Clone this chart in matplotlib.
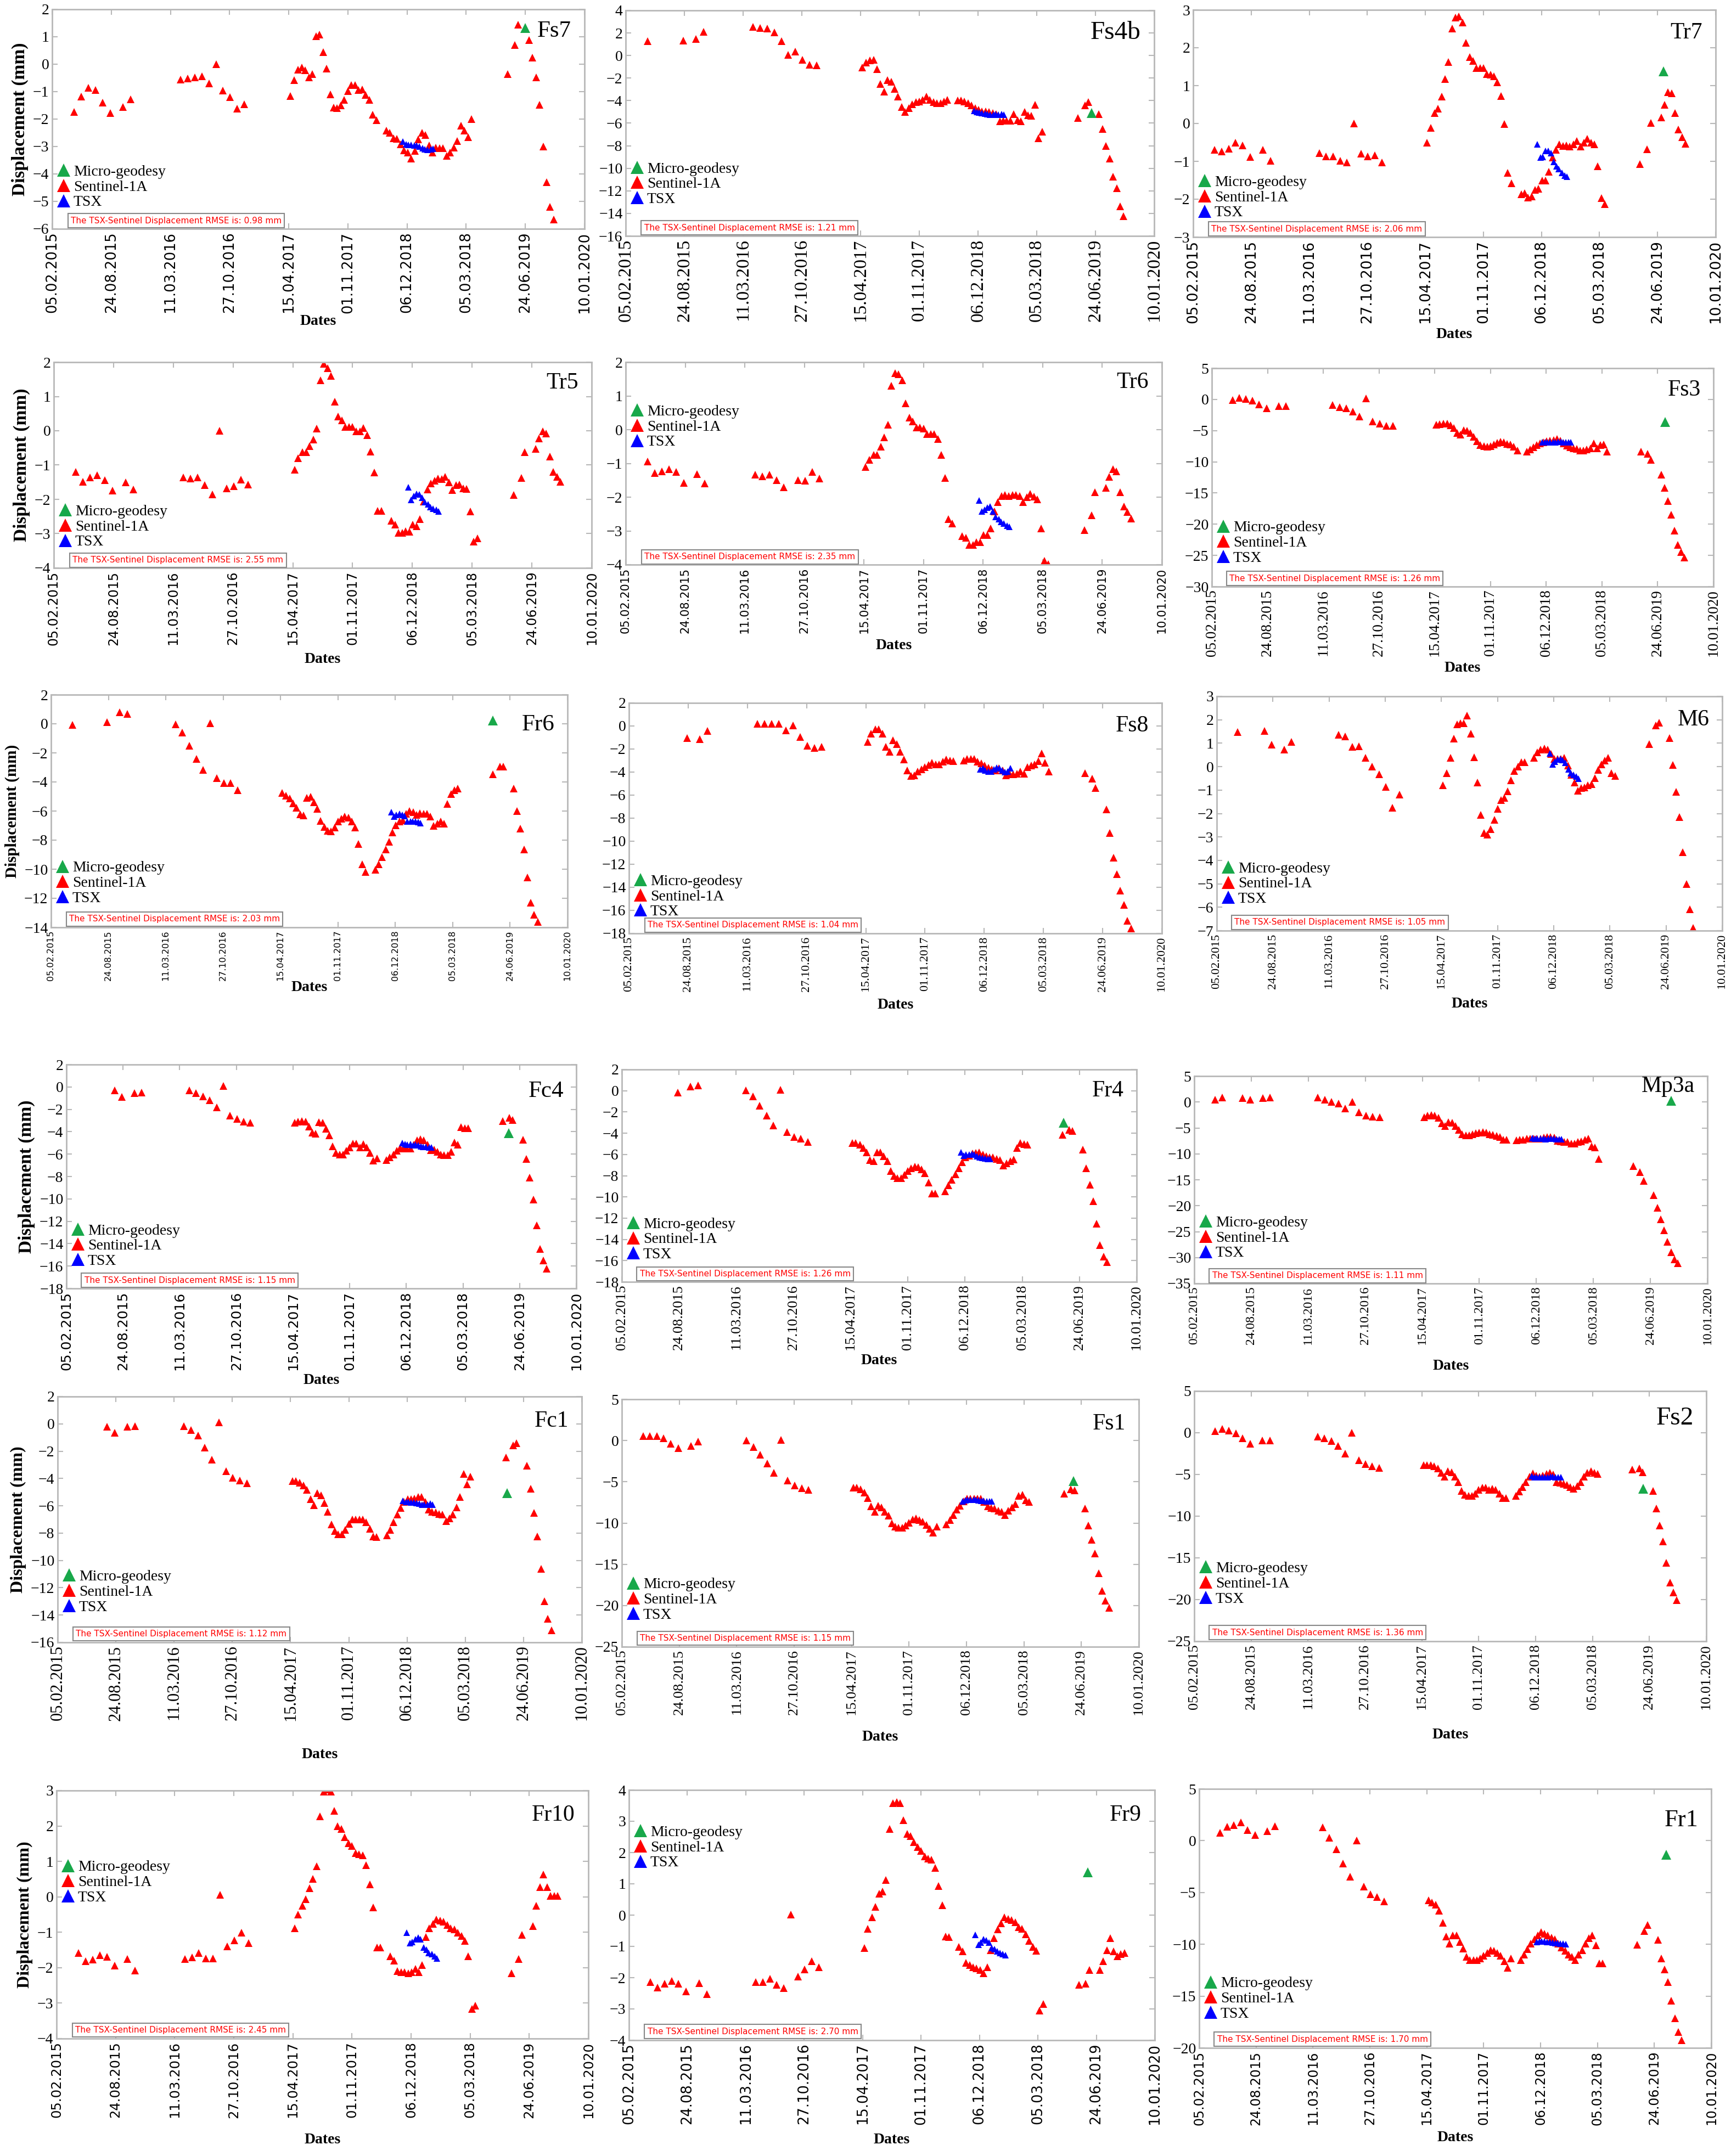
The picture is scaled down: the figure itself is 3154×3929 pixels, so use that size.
import numpy as np
import matplotlib
matplotlib.use('Agg')
import matplotlib.pyplot as plt
from matplotlib.lines import Line2D

nan = np.nan

# ---------------- data ----------------
date_labels = ['05.02.2015', '24.08.2015', '11.03.2016', '27.10.2016', '15.04.2017',
               '01.11.2017', '06.12.2018', '05.03.2018', '24.06.2019', '10.01.2020']

# Sentinel-1A acquisition positions (in tick units along the date axis)
s1_x = [0.37, 0.49, 0.61, 0.73, 0.85, 0.98, 1.20, 1.33,
        2.17, 2.29, 2.41, 2.53, 2.65, 2.77, 2.89, 3.01, 3.13, 3.25,
        4.03, 4.09, 4.16, 4.22, 4.28, 4.34, 4.40, 4.46, 4.52, 4.58, 4.64, 4.70, 4.76,
        4.82, 4.88, 4.94, 5.00, 5.06, 5.12, 5.18, 5.24, 5.30, 5.36, 5.42, 5.48,
        5.65, 5.71, 5.77, 5.83, 5.89, 5.95, 6.01, 6.07, 6.13, 6.19, 6.25, 6.31, 6.37,
        6.43, 6.49, 6.55, 6.61, 6.67, 6.73, 6.79, 6.85, 6.91, 6.97, 7.03, 7.09,
        7.70, 7.82, 7.88, 8.06, 8.12, 8.18, 8.24, 8.30, 8.36, 8.42, 8.48]
# TSX acquisition positions
tsx_x = [5.93, 5.98, 6.02, 6.07, 6.12, 6.16, 6.21, 6.26, 6.30, 6.35, 6.40, 6.44]

fs7_s1 = [-1.74, -1.17, -0.85, -0.93, -1.40, -1.78, -1.56, -1.28,
          -0.56, -0.51, -0.47, -0.43, -0.70, 0.00, -0.95, -1.19, -1.62, -1.46,
          -1.15, -0.58, -0.20, -0.12, -0.21, -0.47, -0.36, 1.03, 1.08, 0.45, -0.15, -1.09, -1.58,
          -1.60, -1.49, -1.29, -0.98, -0.75, -0.75, -0.93, -0.91, -1.12, -1.30, -1.83, -2.04,
          -2.41, -2.49, -2.69, -2.72, -2.92, -3.14, -3.21, -3.44, -3.16, -2.73, -2.49, -2.58, -2.96,
          -3.22, -3.04, -3.06, -3.06, -3.34, -3.22, -3.03, -2.80, -2.24, -2.42, -2.66, -2.00,
          -0.36, 0.71, 1.44, 0.88, 0.24, -0.48, -1.48, -2.99, -4.30, -5.19, -5.66]
fs7_tsx = [-2.82, -2.92, -2.93, -2.93, -2.95, -2.96, -3.00, -3.05, -3.10, -3.12, -3.10, -3.07]
fs7_mg = (8.00, 1.32)

fs4b_s1 = [1.29, nan, nan, nan, nan, 1.32, 1.46, 2.10,
           2.54, 2.44, 2.37, 2.03, 1.29, 0.07, 0.34, -0.37, -0.81, -0.88,
           -1.05, -0.64, -0.41, -0.37, -1.22, -2.51, -3.19, -2.17, -2.31, -2.98, -3.63, -4.58, -4.98,
           -4.68, -4.31, -4.14, -4.07, -3.93, -3.66, -3.93, -4.14, -4.20, -4.20, -4.07, -3.93,
           -4.00, -4.00, -4.07, -4.20, -4.41, -4.64, -4.81, -4.95, -4.95, -4.98, -5.08, -5.22, -5.83,
           -5.76, -5.76, -5.76, -5.22, -5.73, -5.83, -4.98, -5.29, -5.32, -4.37, -7.36, -6.75,
           -5.56, -4.44, -4.14, -5.22, -6.51, -8.03, -9.15, -10.75, -11.76, -13.39, -14.27]
fs4b_tsx = [-4.90, -5.00, -5.05, -5.10, -5.15, -5.20, -5.25, -5.25, -5.20, -5.25, -5.20, -5.25]
fs4b_mg = (7.93, -5.08)

tr7_s1 = [-0.70, -0.74, -0.67, -0.50, -0.58, -0.88, -0.70, -0.98,
          -0.78, -0.87, -0.87, -0.99, -1.03, 0.00, -0.80, -0.87, -0.84, -1.03,
          -0.50, -0.11, 0.28, 0.39, 0.71, 1.18, 1.62, 2.51, 2.79, 2.83, 2.66, 2.13, 1.76,
          1.65, 1.46, 1.46, 1.46, 1.31, 1.29, 1.24, 1.09, 0.72, -0.02, -1.30, -1.58,
          -1.87, -1.84, -1.96, -1.93, -1.76, -1.73, -1.50, -1.50, -1.27, -0.90, -0.70, -0.55, -0.59,
          -0.58, -0.61, -0.55, -0.47, -0.61, -0.50, -0.41, -0.51, -0.55, -1.13, -1.97, -2.13,
          -1.07, -0.68, 0.02, 0.16, 0.50, 0.82, 0.80, 0.27, -0.16, -0.36, -0.54]
tr7_tsx = [-0.55, -0.90, -0.88, -0.72, -0.73, -0.78, -1.01, -1.13, -1.21, -1.30, -1.37, -1.40]
tr7_mg = (8.10, 1.38)

tr5_s1 = [-1.20, -1.49, -1.36, -1.29, -1.44, -1.74, -1.50, -1.72,
          -1.36, -1.40, -1.36, -1.58, -1.86, 0.00, -1.68, -1.62, -1.43, -1.57,
          -1.14, -0.80, -0.62, -0.62, -0.44, -0.26, 0.06, 1.47, 1.96, 1.83, 1.60, 0.85, 0.41,
          0.31, 0.12, 0.11, 0.12, -0.01, -0.01, 0.08, -0.13, -0.60, -1.22, -2.33, -2.33,
          -2.62, -2.74, -2.97, -2.97, -2.93, -2.95, -2.73, -2.79, -2.57, -2.06, -1.71, -1.54, -1.46,
          -1.39, -1.41, -1.35, -1.51, -1.73, -1.59, -1.57, -1.68, -1.69, -2.36, -3.24, -3.14,
          -1.87, -1.37, -0.62, -0.52, -0.22, -0.01, -0.08, -0.75, -1.20, -1.35, -1.49]
tr5_tsx = [-1.65, -2.02, -1.90, -1.84, -1.86, -1.95, -2.08, -2.15, -2.22, -2.27, -2.30, -2.36]
tr5_mg = None

tr6_s1 = [-0.94, -1.28, -1.23, -1.17, -1.25, -1.57, -1.32, -1.60,
          -1.33, -1.38, -1.33, -1.49, -1.70, nan, -1.49, -1.51, -1.25, -1.44,
          -1.11, -0.89, -0.74, -0.74, -0.51, -0.23, 0.14, 1.30, 1.67, 1.65, 1.47, 0.78, 0.36,
          0.25, 0.06, 0.06, 0.03, -0.13, -0.13, -0.13, -0.28, -0.75, -1.43, -2.65, -2.78,
          -3.15, -3.20, -3.41, -3.42, -3.34, -3.34, -3.13, -3.13, -2.93, -2.42, -2.14, -1.97, -1.94,
          -1.97, -1.94, -1.93, -1.97, -2.14, -2.00, -1.91, -1.99, -2.06, -2.93, -3.88, -3.99,
          -2.97, -2.53, -1.85, -1.72, -1.40, -1.17, -1.24, -1.85, -2.28, -2.44, -2.63]
tr6_tsx = [-2.10, -2.42, -2.38, -2.31, -2.28, -2.42, -2.59, -2.65, -2.73, -2.78, -2.84, -2.88]
tr6_mg = None

fs3_s1 = [-0.12, 0.24, 0.06, -0.18, -0.78, -1.44, -1.08, -1.08,
          -0.90, -1.20, -1.44, -1.92, -2.76, 0.12, -3.54, -3.90, -4.20, -4.20,
          -4.08, -3.96, -3.84, -3.90, -4.14, -4.62, -5.40, -5.64, -4.92, -5.04, -5.34, -6.00, -6.72,
          -7.32, -7.50, -7.56, -7.50, -7.26, -6.96, -6.78, -6.90, -7.14, -7.20, -7.56, -8.16,
          -8.34, -8.04, -7.68, -7.32, -7.02, -6.84, -6.72, -6.60, -6.48, -6.36, -6.60, -7.02, -7.44,
          -7.68, -7.80, -7.92, -8.16, -8.22, -8.04, -7.80, -7.08, -7.80, -7.32, -7.20, -8.40,
          -8.40, -8.76, -9.72, -12.1, -14.2, -16.3, -18.5, -21.0, -23.3, -24.5, -25.3]
fs3_tsx = [-6.90, -6.90, -6.90, -6.85, -6.85, -6.85, -6.80, -6.80, -6.85, -6.85, -6.90, -6.90]
fs3_mg = (8.13, -3.66)

fr6_s1 = [-0.09, nan, nan, nan, nan, 0.13, 0.79, 0.69,
          -0.05, -0.59, -1.50, -2.40, -3.18, 0.04, -3.75, -4.09, -4.09, -4.56,
          -4.75, -4.94, -5.13, -5.49, -5.76, -6.23, -6.31, -5.09, -5.01, -5.38, -5.86, -6.68, -7.09,
          -7.34, -7.40, -7.15, -6.71, -6.52, -6.36, -6.46, -6.71, -7.15, -8.28, -9.67, -10.18,
          -10.05, -9.67, -9.17, -8.64, -8.10, -7.47, -6.99, -6.73, -6.65, -6.20, -6.01, -6.08, -6.27,
          -6.14, -6.20, -6.20, -6.36, -7.02, -6.86, -6.73, -6.86, -5.51, -4.82, -4.56, -4.44,
          -3.49, -2.93, -2.93, -4.44, -6.01, -7.21, -8.66, -10.55, -12.32, -13.14, -13.64]
fr6_tsx = [-6.08, -6.39, -6.25, -6.20, -6.25, -6.33, -6.71, -6.71, -6.71, -6.71, -6.77, -6.83]
fr6_mg = (7.70, 0.23)

fs8_s1 = [nan, nan, nan, nan, nan, -1.05, -1.12, -0.44,
          0.17, 0.17, 0.17, 0.17, -0.37, 0.07, -0.95, -1.70, -1.90, -1.80,
          -1.36, -0.68, -0.27, -0.27, -0.68, -1.80, -2.24, -1.22, -1.56, -2.24, -2.92, -3.84, -4.35,
          -4.28, -3.94, -3.74, -3.57, -3.40, -3.19, -3.33, -3.33, -3.09, -2.92, -2.99, -3.06,
          -2.99, -2.85, -2.85, -2.85, -3.09, -3.26, -3.43, -3.60, -3.77, -3.84, -3.67, -3.84, -4.28,
          -4.21, -4.21, -4.14, -3.94, -4.14, -3.57, -3.43, -3.33, -3.06, -2.38, -3.19, -3.94,
          -4.11, -4.58, -5.37, -7.23, -9.27, -11.41, -12.87, -14.30, -15.52, -16.91, -17.59]
fs8_tsx = [-3.77, -3.67, -3.84, -3.94, -3.94, -3.77, -3.60, -3.67, -3.84, -4.00, -3.94, -3.67]
fs8_mg = None

m6_s1 = [1.48, nan, nan, nan, 1.53, 0.93, 0.72, 1.05,
         1.37, 1.28, 0.85, 0.88, 0.37, 0.00, -0.32, -0.86, -1.75, -1.20,
         -0.80, -0.27, 0.37, 1.20, 1.80, 1.85, 1.85, 2.17, 1.40, 0.41, -0.67, -2.07, -2.82,
         -2.90, -2.66, -2.26, -1.79, -1.42, -1.34, -1.04, -0.59, -0.19, 0.00, 0.18, 0.18,
         0.37, 0.61, 0.72, 0.77, 0.72, 0.53, 0.32, 0.33, 0.32, 0.37, 0.05, -0.35, -0.67,
         -1.02, -0.91, -0.88, -0.80, -0.75, -0.48, -0.14, 0.10, 0.26, 0.37, -0.27, -0.40,
         0.96, 1.77, 1.88, 1.21, 0.08, -1.08, -2.15, -3.65, -5.01, -6.09, -6.89]
m6_tsx = [0.57, 0.10, 0.22, 0.30, 0.32, 0.29, 0.16, -0.11, -0.27, -0.35, -0.43, -0.51]
m6_mg = None

fc4_s1 = [nan, nan, nan, nan, -0.32, -0.88, -0.54, -0.48,
          -0.32, -0.54, -0.82, -1.18, -1.82, 0.08, -2.54, -2.84, -3.08, -3.20,
          -3.18, -3.08, -3.04, -3.12, -3.54, -4.08, -4.18, -3.14, -3.18, -3.72, -4.34, -5.32, -5.88,
          -6.02, -6.02, -5.72, -5.38, -5.04, -5.04, -5.38, -5.12, -5.38, -5.88, -6.58, -6.38,
          -6.54, -6.28, -6.04, -5.68, -5.44, -5.48, -5.48, -5.48, -5.18, -4.78, -4.68, -4.78, -5.18,
          -5.64, -5.62, -5.78, -6.04, -6.08, -6.08, -5.78, -4.98, -5.18, -3.58, -3.68, -3.68,
          -3.04, -2.74, -2.94, -4.74, -6.44, -8.12, -10.08, -12.38, -14.48, -15.52, -16.24]
fc4_tsx = [-5.00, -5.10, -5.15, -5.10, -5.20, -5.15, -5.20, -5.30, -5.35, -5.35, -5.40, -5.40]
fc4_mg = (7.81, -4.12)

fr4_s1 = [nan, nan, nan, nan, nan, -0.15, 0.40, 0.48,
          0.04, -0.55, -1.43, -2.34, -3.25, 0.11, -3.91, -4.35, -4.53, -4.83,
          -4.90, -4.90, -5.08, -5.37, -5.81, -6.54, -6.65, -5.81, -5.81, -6.18, -6.65, -7.57, -8.00,
          -8.23, -8.23, -7.93, -7.57, -7.28, -7.13, -7.20, -7.39, -7.75, -8.67, -9.69, -9.69,
          -9.47, -8.92, -8.37, -7.86, -7.28, -6.73, -6.29, -6.11, -5.92, -5.85, -5.81, -6.00, -6.18,
          -6.29, -6.29, -6.40, -6.54, -7.02, -6.84, -6.65, -6.47, -5.37, -4.90, -5.01, -5.08,
          -4.17, -3.66, -3.80, -5.56, -7.31, -8.85, -10.42, -12.50, -14.52, -15.61, -16.16]
fr4_tsx = [-5.81, -6.11, -6.03, -6.03, -5.96, -6.03, -6.18, -6.29, -6.33, -6.36, -6.40, -6.40]
fr4_mg = (7.72, -3.00)

mp3a_s1 = [0.47, 0.90, nan, nan, 0.74, 0.41, 0.74, 0.88,
           0.88, 0.41, 0.07, -0.34, -1.22, 0.07, -2.03, -2.57, -2.84, -2.98,
           -2.98, -2.64, -2.50, -2.64, -3.04, -4.06, -4.67, -3.86, -3.99, -4.67, -5.35, -6.22, -6.43,
           -6.43, -6.22, -6.02, -5.89, -5.75, -5.95, -6.22, -6.36, -6.56, -6.77, -7.24, -7.31,
           -7.37, -7.24, -7.24, -7.10, -7.04, -7.04, -7.04, -7.04, -6.90, -6.77, -6.70, -6.90, -7.44,
           -7.58, -7.71, -7.71, -7.98, -7.98, -7.71, -7.58, -7.24, -7.04, -8.59, -8.73, -10.96,
           -12.31, -13.53, -15.16, -18.00, -20.43, -22.60, -24.70, -26.93, -28.96, -30.31, -31.12]
mp3a_tsx = [-7.00, -7.05, -7.10, -7.05, -7.10, -7.15, -7.10, -7.05, -7.10, -7.15, -7.20, -7.20]
mp3a_mg = (8.36, 0.20)

fc1_s1 = [nan, nan, nan, nan, -0.19, -0.64, -0.22, -0.16,
          -0.16, -0.45, -0.86, -1.72, -2.61, 0.13, -3.47, -3.94, -4.13, -4.36,
          -4.20, -4.20, -4.29, -4.52, -4.83, -5.53, -5.95, -5.09, -5.25, -5.79, -6.42, -7.38, -7.85,
          -8.08, -8.08, -7.76, -7.31, -7.00, -7.00, -7.00, -7.00, -7.22, -7.69, -8.24, -8.27,
          -8.17, -7.76, -7.22, -6.65, -6.17, -5.72, -5.53, -5.53, -5.47, -5.34, -5.37, -5.72, -6.26,
          -6.42, -6.49, -6.58, -6.65, -7.12, -6.93, -6.65, -6.10, -5.34, -3.66, -4.42, -3.88,
          -2.45, -1.56, -1.43, -3.08, -4.77, -6.52, -8.24, -10.62, -13.00, -14.28, -15.10]
fc1_tsx = [-5.63, -5.72, -5.72, -5.75, -5.75, -5.80, -5.85, -5.90, -5.90, -5.90, -5.85, -5.90]
fc1_mg = (7.72, -5.09)

fs1_s1 = [0.52, 0.57, 0.52, 0.26, -0.41, -0.93, -0.67, -0.15,
          0.00, -0.77, -1.70, -2.78, -3.92, 0.10, -4.85, -5.46, -5.77, -5.98,
          -5.72, -5.72, -5.93, -6.29, -6.96, -7.99, -8.61, -7.89, -8.09, -8.61, -9.12, -10.05, -10.41,
          -10.57, -10.57, -10.31, -9.95, -9.54, -9.43, -9.64, -9.85, -10.21, -10.67, -11.19, -10.41,
          -10.15, -9.64, -9.02, -8.40, -7.89, -7.37, -7.06, -7.06, -7.06, -7.06, -7.06, -7.47, -7.99,
          -8.14, -8.25, -8.51, -8.66, -9.02, -8.51, -8.09, -7.73, -6.70, -6.60, -7.22, -7.47,
          -6.44, -5.93, -6.03, -8.25, -10.31, -12.01, -13.66, -16.08, -18.20, -19.43, -20.26]
fs1_tsx = [-7.37, -7.25, -7.20, -7.20, -7.20, -7.20, -7.25, -7.30, -7.30, -7.35, -7.35, -7.40]
fs1_mg = (7.86, -4.90)

fs2_s1 = [0.22, 0.45, 0.27, -0.09, -0.67, -1.30, -0.90, -0.90,
          -0.45, -0.67, -0.99, -1.57, -2.47, 0.00, -3.32, -3.77, -4.04, -4.22,
          -3.90, -3.90, -3.90, -3.99, -4.26, -4.80, -5.25, -4.58, -4.71, -5.25, -5.92, -6.96, -7.41,
          -7.59, -7.59, -7.27, -6.87, -6.60, -6.60, -6.82, -6.73, -6.82, -7.27, -7.81, -7.81,
          -7.59, -7.05, -6.51, -5.92, -5.25, -4.89, -5.16, -5.25, -5.12, -4.94, -4.80, -5.03, -5.92,
          -6.01, -6.15, -6.24, -6.51, -6.69, -6.37, -5.92, -5.25, -4.80, -4.58, -4.80, -4.94,
          -4.44, -4.26, -4.71, -6.96, -9.07, -11.09, -13.02, -15.57, -17.95, -19.17, -20.06]
fs2_tsx = [-5.20, -5.30, -5.30, -5.30, -5.35, -5.30, -5.30, -5.25, -5.25, -5.30, -5.35, -5.35]
fs2_mg = (7.89, -6.69)

fr10_s1 = [-1.58, -1.82, -1.77, -1.64, -1.70, -1.94, -1.76, -2.08,
           -1.76, -1.71, -1.58, -1.74, -1.74, 0.05, -1.40, -1.23, -1.01, -1.31,
           -0.89, -0.50, -0.25, -0.06, 0.24, 0.51, 0.87, 2.27, 2.97, 3.03, 2.97, 2.43, 2.00,
           1.91, 1.69, 1.52, 1.44, 1.24, 1.20, 1.18, 0.90, 0.35, -0.30, -1.43, -1.43,
           -1.67, -1.80, -2.10, -2.12, -2.12, -2.15, -2.12, -2.04, -2.12, -1.92, -1.13, -0.89, -0.76,
           -0.64, -0.67, -0.70, -0.79, -0.89, -0.92, -1.01, -1.10, -1.25, -1.67, -3.16, -3.07,
           -2.16, -1.76, -1.07, -0.83, -0.25, 0.27, 0.63, 0.27, 0.02, 0.02, 0.02]
fr10_tsx = [-1.01, -1.31, -1.27, -1.19, -1.15, -1.19, -1.43, -1.49, -1.59, -1.62, -1.67, -1.74]
fr10_mg = None

fr9_s1 = [-2.14, -2.31, -2.20, -2.11, -2.20, -2.44, -2.18, -2.52,
          -2.14, -2.14, -2.03, -2.23, -2.34, 0.01, -1.97, -1.73, -1.48, -1.66,
          -1.05, -0.44, -0.07, 0.27, 0.68, 0.76, 1.13, 2.76, 3.58, 3.61, 3.58, 3.03, 2.59,
          2.53, 2.33, 2.18, 2.05, 1.88, 1.81, 1.78, 1.51, 0.93, 0.31, -0.68, -0.71,
          -1.01, -1.16, -1.52, -1.59, -1.66, -1.70, -1.76, -1.86, -1.66, -1.12, -0.73, -0.46, -0.27,
          -0.07, -0.12, -0.16, -0.23, -0.39, -0.44, -0.61, -0.82, -1.01, -1.14, -3.05, -2.84,
          -2.23, -2.20, -1.76, -1.76, -1.48, -1.12, -0.73, -1.16, -1.32, -1.25, -1.21]
fr9_tsx = [-0.64, -0.95, -0.87, -0.78, -0.80, -0.87, -1.05, -1.09, -1.16, -1.21, -1.25, -1.28]
fr9_mg = (7.85, 1.36)

fr1_s1 = [0.76, 1.35, 1.52, 1.79, 1.03, 0.53, 0.90, 1.38,
          1.29, 0.28, -0.83, -2.19, -3.49, 0.00, -4.41, -5.17, -5.43, -5.84,
          -5.75, -5.96, -6.18, -6.76, -7.91, -9.24, -9.95, -9.15, -9.15, -9.77, -10.39, -11.19, -11.54,
          -11.54, -11.54, -11.36, -11.10, -10.83, -10.57, -10.65, -10.83, -11.10, -11.63, -12.25, -11.36,
          -11.50, -11.01, -10.48, -9.95, -9.50, -9.12, -8.80, -8.97, -9.15, -9.33, -9.50, -9.95, -10.30,
          -10.65, -11.01, -11.19, -11.50, -11.01, -10.57, -9.95, -9.42, -9.15, -10.12, -11.84, -11.84,
          -10.04, -8.71, -8.14, -9.59, -11.36, -12.42, -13.66, -15.43, -17.15, -18.44, -19.27]
fr1_tsx = [-9.80, -9.75, -9.70, -9.75, -9.80, -9.80, -9.85, -9.90, -9.90, -9.95, -9.95, -10.00]
fr1_mg = (8.21, -1.36)

panel_names = ['Fs7', 'Fs4b', 'Tr7', 'Tr5', 'Tr6', 'Fs3', 'Fr6', 'Fs8', 'M6',
               'Fc4', 'Fr4', 'Mp3a', 'Fc1', 'Fs1', 'Fs2', 'Fr10', 'Fr9', 'Fr1']
s1_series = [fs7_s1, fs4b_s1, tr7_s1, tr5_s1, tr6_s1, fs3_s1, fr6_s1, fs8_s1, m6_s1,
             fc4_s1, fr4_s1, mp3a_s1, fc1_s1, fs1_s1, fs2_s1, fr10_s1, fr9_s1, fr1_s1]
tsx_series = [fs7_tsx, fs4b_tsx, tr7_tsx, tr5_tsx, tr6_tsx, fs3_tsx, fr6_tsx, fs8_tsx, m6_tsx,
              fc4_tsx, fr4_tsx, mp3a_tsx, fc1_tsx, fs1_tsx, fs2_tsx, fr10_tsx, fr9_tsx, fr1_tsx]
mg_points = [fs7_mg, fs4b_mg, tr7_mg, tr5_mg, tr6_mg, fs3_mg, fr6_mg, fs8_mg, m6_mg,
             fc4_mg, fr4_mg, mp3a_mg, fc1_mg, fs1_mg, fs2_mg, fr10_mg, fr9_mg, fr1_mg]
rmse_values = ['0.98', '1.21', '2.06', '2.55', '2.35', '1.26', '2.03', '1.04', '1.05',
               '1.15', '1.26', '1.11', '1.12', '1.15', '1.36', '2.45', '2.70', '1.70']
y_ranges = [(-6, 2, 1), (-16, 4, 2), (-3, 3, 1), (-4, 2, 1), (-4, 2, 1), (-30, 5, 5),
            (-14, 2, 2), (-18, 2, 2), (-7, 3, 1), (-18, 2, 2), (-18, 2, 2), (-35, 5, 5),
            (-16, 2, 2), (-25, 5, 5), (-25, 5, 5), (-4, 3, 1), (-4, 4, 1), (-20, 5, 5)]

# ---------------- layout (pixels in the 3154x3929 canvas) ----------------
W, H = 3154, 3929
boxes = [(95, 17, 1065, 417), (1140, 19, 2103, 430), (2174, 18, 3126, 432),
         (98, 660, 1078, 1035), (1140, 660, 2117, 1029), (2208, 671, 3122, 1069),
         (93, 1266, 1034, 1690), (1146, 1281, 2117, 1701), (2217, 1269, 3138, 1696),
         (121, 1940, 1050, 2348), (1133, 1949, 2071, 2336), (2176, 1961, 3111, 2339),
         (105, 2545, 1060, 2993), (1133, 2550, 2075, 3001), (2176, 2535, 3109, 2991),
         (103, 3263, 1072, 3715), (1146, 3262, 2104, 3718), (2185, 3260, 3118, 3732)]
dates_y = [585, None, 609, 1201, 1177, 1217, 1799, 1832, 1829,
           2515, 2480, 2489, 3197, 3166, 3161, 3900, 3900, 3895]
has_ylabel = [True, False, False, True, False, False, True, False, False,
              True, False, False, True, False, False, True, False, False]
ylabel_size = [24, 0, 0, 24, 0, 0, 21, 0, 0, 24, 0, 0, 23, 0, 0, 23, 0, 0]
legend_mid = [0.19, 0.23, 0.174, 0.20, 0.68, 0.20, 0.19, 0.16, 0.20,
              0.19, 0.20, 0.22, 0.205, 0.19, 0.23, 0.63, 0.77, 0.19]
sans_dates = [True, False, True, True, True, False, True, False, False,
              True, False, False, False, False, False, True, True, True]
dates_size = [18.5, 24, 19, 17, 15, 19.5, 11.5, 16, 16,
              18, 19, 17, 22, 19, 19, 17.5, 18.5, 17]
name_size = [31, 34, 30, 30, 30, 30, 31, 30, 30, 31, 30, 30, 30, 30, 34, 30, 30, 32]
name_y = [0.9, 0.9, 0.9, 0.9, 0.9, 0.9, 0.87, 0.9, 0.9, 0.88, 0.9, 0.95, 0.9, 0.9, 0.89, 0.9, 0.9, 0.88]

SERIF = ['Liberation Serif', 'DejaVu Serif']
SANS = ['DejaVu Sans']
RED, BLUE, GREEN = '#ff0000', '#0000ff', '#18a84a'
SPINE = '#b8b8b8'

fig = plt.figure(figsize=(W / 100, H / 100), dpi=100)
fig.patch.set_facecolor('white')

for i, name in enumerate(panel_names):
    l, t, r, b = boxes[i]
    ax = fig.add_axes([l / W, 1 - b / H, (r - l) / W, (b - t) / H])
    y_s1 = s1_series[i]
    n = min(len(s1_x), len(y_s1))
    ax.plot(s1_x[:n], y_s1[:n], ls='none', marker='^', color=RED, ms=10, mew=0)
    ax.plot(tsx_x, tsx_series[i], ls='none', marker='^', color=BLUE, ms=9, mew=0)
    if mg_points[i] is not None:
        ax.plot([mg_points[i][0]], [mg_points[i][1]], ls='none', marker='^',
                color=GREEN, ms=13, mew=0)
    y0, y1, st = y_ranges[i]
    ax.set_xlim(0, 9)
    ax.set_ylim(y0, y1)
    ax.set_xticks(range(10))
    ax.set_xticklabels(date_labels, rotation=90, fontsize=dates_size[i],
                       family=SANS if sans_dates[i] else SERIF)
    yt = np.arange(y0, y1 + st * 0.01, st)
    ax.set_yticks(yt)
    ax.set_yticklabels([f'{v:g}'.replace('-', '\u2212') for v in yt],
                       fontsize=20, family=SERIF)
    ax.tick_params(direction='in', top=True, right=True, length=7, width=1.5,
                   color=SPINE, pad=4)
    for s in ax.spines.values():
        s.set_color(SPINE)
        s.set_linewidth(2)

    ax.text(0.975, name_y[i], name, transform=ax.transAxes, ha='right', va='center',
            fontsize=name_size[i], family=SERIF)

    handles = [Line2D([], [], ls='none', marker='^', color=GREEN, ms=17, mew=0),
               Line2D([], [], ls='none', marker='^', color=RED, ms=17, mew=0),
               Line2D([], [], ls='none', marker='^', color=BLUE, ms=17, mew=0)]
    ax.legend(handles, ['Micro-geodesy', 'Sentinel-1A', 'TSX'], loc='center left',
              bbox_to_anchor=(0.0, legend_mid[i]), frameon=False,
              prop={'family': SERIF, 'size': 20}, handlelength=0.9,
              handletextpad=0.2, labelspacing=0.08, borderaxespad=0.0, borderpad=0.3)

    ax.text(0.035, 0.018, f'The TSX-Sentinel Displacement RMSE is: {rmse_values[i]} mm',
            transform=ax.transAxes, ha='left', va='bottom', fontsize=11, color=RED,
            family=SANS, bbox=dict(boxstyle='square,pad=0.35', fc='white', ec='#888888', lw=1.5))

    if has_ylabel[i]:
        ax.set_ylabel('Displacement (mm)', fontsize=ylabel_size[i], fontweight='bold',
                      family=SERIF, labelpad=6)
    if dates_y[i] is not None:
        fig.text((l + r) / 2 / W, 1 - dates_y[i] / H, 'Dates', ha='center', va='center',
                 fontsize=20, fontweight='bold', family=SERIF)

fig.savefig('out.png', dpi=100, facecolor='white')
